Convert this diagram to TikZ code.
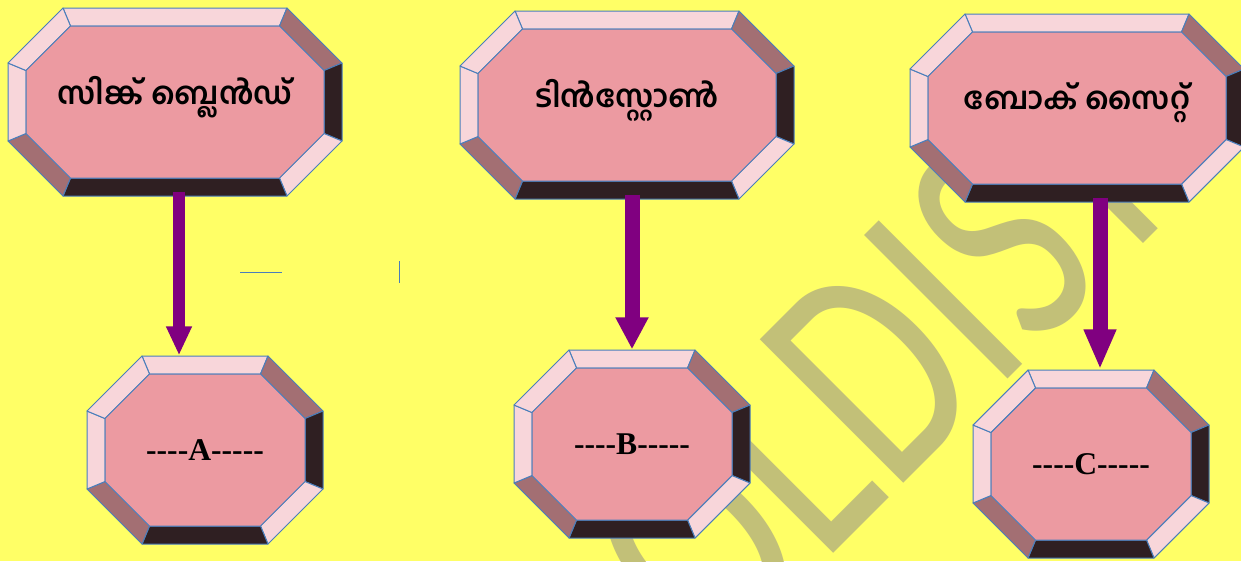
\documentclass[tikz,border=0pt]{standalone}
\usepackage{fontspec}
\setmainfont{Liberation Serif}
\newfontfamily\malfont[Script=Malayalam]{Hind Kochi}
\newfontfamily\labfont[Ligatures=TeXOff]{Liberation Serif}
\newfontfamily\wmfont{Carlito}
\usetikzlibrary{arrows.meta}
\definecolor{bgyellow}{HTML}{FFFF66}
\definecolor{gemface}{HTML}{EC9AA1}
\definecolor{gemlight}{HTML}{F8D6DA}
\definecolor{gemmauve}{HTML}{A36F73}
\definecolor{gemdark}{HTML}{2F1F22}
\definecolor{gemline}{HTML}{4A7EBB}
\definecolor{arrowpurple}{HTML}{800080}
\definecolor{wmolive}{HTML}{C2C078}
\begin{document}
\begin{tikzpicture}[x=0.1mm, y=-0.1mm, line join=round,
	facet/.style={draw=gemline, line width=0.1mm},
	topfont/.style={font=\malfont\bfseries\fontsize{8.8}{11}\selectfont, yshift=0.5mm},
	botfont/.style={font=\labfont\bfseries\fontsize{9}{11}\selectfont},
	fatarrow/.style={draw=arrowpurple}]
	% Tham số
	\def\gcut{55}
	\def\gbev{18}
	\def\gcuti{44.5}
	\def\gh{94}
	% Nền
	\fill[bgyellow] (0,0) rectangle (1241,561);
	\useasboundingbox (0,0) rectangle (1241,561);
	\begin{scope}
		\clip (0,0) rectangle (1241,561);
		\node[text=wmolive, font=\wmfont\fontsize{90}{90}\selectfont, inner sep=0, anchor=base west, rotate=45, xscale=0.74] (wm) at (336,1051) {SCHOOLDIST};
	\end{scope}
	% Các hình bát giác
	\foreach \n/\x/\y/\w/\s/\t in {s1/175/102/167/topfont/{സിങ്ക് ബ്ലെൻഡ്}, s2/627/105/167/topfont/{ടിൻസ്റ്റോൺ}, s3/1077/108/167/topfont/{ബോക് സൈറ്റ്}, a/205/450/118/botfont/{----A-----}, b/632/444/118/botfont/{----B-----}, c/1091/464/118/botfont/{----C-----}}{
		\begin{scope}[shift={(\x,\y)}]
			\foreach \k/\sx/\sy/\ax/\ay in {1/-1/-1/1/0, 2/1/-1/-1/0, 3/1/-1/0/1, 4/1/1/0/-1, 5/1/1/-1/0, 6/-1/1/1/0, 7/-1/1/0/-1, 8/-1/-1/0/1}{
				\coordinate (o\k) at ({\sx*\w+\ax*\gcut},{\sy*\gh+\ay*\gcut});
				\coordinate (i\k) at ({\sx*(\w-\gbev)+\ax*\gcuti},{\sy*(\gh-\gbev)+\ay*\gcuti});
			}
			\foreach \p/\q/\col in {1/2/gemlight, 2/3/gemmauve, 3/4/gemdark, 4/5/gemlight, 5/6/gemdark, 6/7/gemmauve, 7/8/gemlight, 8/1/gemlight}
			\filldraw[facet, fill=\col] (o\p)--(o\q)--(i\q)--(i\p)--cycle;
			\filldraw[facet, fill=gemface] (i1)--(i2)--(i3)--(i4)--(i5)--(i6)--(i7)--(i8)--cycle;
			\node[\s, inner sep=0, minimum width={2*\w*0.1mm}, minimum height={2*\gh*0.1mm}] (\n) at (0,0) {\t};
		\end{scope}
	}
	% Mũi tên
	\foreach \u/\v/\ax/\sw/\hl/\hw in {s1/a/179/1.2mm/2.9mm/2.4mm, s2/b/632/1.5mm/3.2mm/3.1mm, s3/c/1100/1.5mm/4mm/3mm}
	\draw[fatarrow, line width=\sw, -{Triangle[length=\hl, width=\hw]}] (\u.south -| \ax,0) -- (\v.north -| \ax,0);
	% Nét thừa
	\draw[gemline, line width=0.1mm] (240,272) -- (282,272);
	\draw[gemline, line width=0.1mm] (399,261) -- (399,283);
\end{tikzpicture}
\end{document}
